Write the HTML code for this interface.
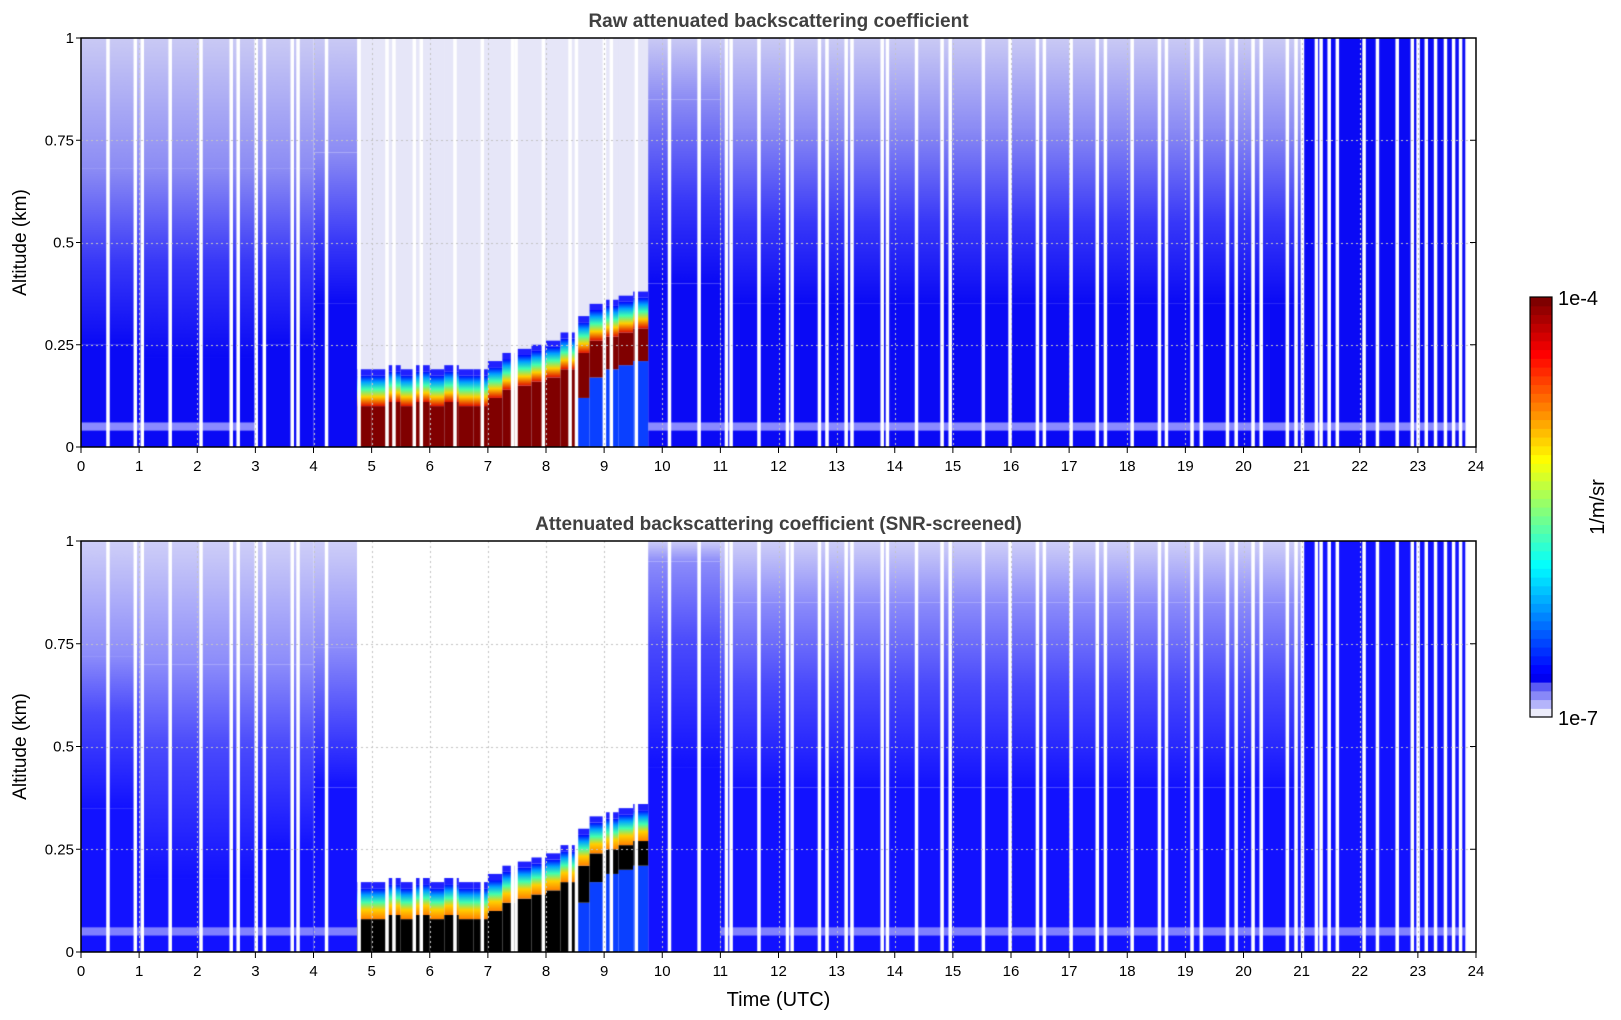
<!DOCTYPE html>
<html><head><meta charset="utf-8"><style>
html,body{margin:0;padding:0;background:#fff;}
#wrap{position:relative;width:1621px;height:1020px;overflow:hidden;font-family:"Liberation Sans","DejaVu Sans",sans-serif;}
canvas,svg{position:absolute;left:0;top:0;}
</style></head><body>
<div id="wrap">
<canvas id="cv" width="1621" height="1020"></canvas>
<svg id="sv" width="1621" height="1020"></svg>
</div>
<script>
// ---- data ----
const segEdges = [0, 1, 3, 4, 4.75, 9.75, 11, 21, 23.82];
const topL1 = [0.25, 0.22, 0.25, 0.35, 0, 0.4, 0.35, 1];
const topL2 = [0.45, 0.45, 0.45, 0.5, 0, 0.6, 0.55, 1];
const topL3 = [0.68, 0.68, 0.68, 0.72, 0, 0.85, 0.78, 1];
const botL1 = [0.35, 0.18, 0.25, 0.4, 0, 0.45, 0.4, 1];
const botL2 = [0.58, 0.5, 0.5, 0.56, 0, 0.75, 0.65, 1];
const botL3 = [0.72, 0.7, 0.7, 0.74, 0, 0.95, 0.85, 1];
const topBand = [1, 1, 0, 0, 0, 1, 1, 1];
const botBand = [1, 1, 1, 1, 0, 0, 1, 1];
const cloudStart = 4.75;
const cloudStep = 0.25;
const cloudTop = [0.1,0.1,0.11,0.1,0.11,0.1,0.11,0.1,0.1,0.12,0.14,0.15,0.16,0.17,0.19,0.23,0.26,0.27,0.28,0.29];
const cloudBase = [0,0,0,0,0,0,0,0,0,0,0,0,0,0,0,0.12,0.17,0.19,0.2,0.21];
const gapHours = [0.46,0.93,1.05,1.53,2.06,2.58,2.70,3.01,3.15,3.63,3.73,4.22,4.78,5.26,5.38,5.73,5.85,6.43,6.90,7.42,7.48,7.95,8.41,8.52,9.00,9.12,9.55,10.12,10.63,11.10,11.18,11.66,12.15,12.23,12.70,12.83,13.16,13.26,13.78,13.87,14.37,14.81,14.95,15.52,15.98,16.45,16.57,17.03,17.48,17.62,18.08,18.55,18.67,19.11,19.27,19.72,19.87,20.16,20.30,20.75,20.90,21.01,21.25,21.33,21.47,21.61,22.07,22.30,22.64,22.90,23.0,23.14,23.3,23.47,23.61,23.73];
const dataEnd = 23.82;
const xTicks = [0,1,2,3,4,5,6,7,8,9,10,11,12,13,14,15,16,17,18,19,20,21,22,23,24];
const yTicks = [0, 0.25, 0.5, 0.75, 1];
const yTickLabels = ["0","0.25","0.5","0.75","1"];

// ---- layout ----
const X0 = 81, X1 = 1476;
const panels = [
  {y0:38, y1:447, L1:topL1, L2:topL2, L3:topL3, band:topBand,
   c:["#0a0af5","#3838f8","#8c8cf4","#cacaf4"], clear:"#e6e6f8", core:"#800000", bandC:"#8a8aff",
   title:"Raw attenuated backscattering coefficient", name:"raw"},
  {y0:541, y1:952, L1:botL1, L2:botL2, L3:botL3, band:botBand,
   c:["#1212ff","#4a4afc","#8c8cfa","#cfcff8"], clear:"#ffffff", core:"#000000", bandC:"#8080ff",
   title:"Attenuated backscattering coefficient (SNR-screened)", name:"screened"}
];
function xs(h){ return X0 + (X1 - X0) * h / 24; }

const ctx = document.getElementById('cv').getContext('2d');
panels.forEach(p => {
  const ys = v => p.y1 - (p.y1 - p.y0) * v;
  for (let s = 0; s < segEdges.length - 1; s++) {
    const xa = xs(segEdges[s]), xb = xs(segEdges[s+1]);
    if (p.L1[s] === 0 && p.L3[s] === 0) continue;
    ctx.fillStyle = p.c[0];
    ctx.fillRect(xa, ys(p.L1[s]), xb - xa, ys(0) - ys(p.L1[s]));
    if (p.L1[s] < 1) {
      const ga = ys(p.L1[s]), gb = ys(p.L3[s]);
      const g = ctx.createLinearGradient(0, ga, 0, gb);
      const f = (p.L2[s] - p.L1[s]) / Math.max(0.001, p.L3[s] - p.L1[s]);
      g.addColorStop(0, p.c[0]); g.addColorStop(Math.min(1, Math.max(0, f)), p.c[1]); g.addColorStop(1, p.c[2]);
      ctx.fillStyle = g; ctx.fillRect(xa, gb, xb - xa, ga - gb);
      const g2 = ctx.createLinearGradient(0, gb, 0, ys(1));
      g2.addColorStop(0, p.c[2]); g2.addColorStop(1, p.c[3]);
      ctx.fillStyle = g2; ctx.fillRect(xa, ys(1), xb - xa, gb - ys(1));
    }
    if (p.band[s]) { ctx.fillStyle = p.bandC; ctx.fillRect(xa, ys(0.06), xb - xa, ys(0.04) - ys(0.06)); }
  }
  // cloud region
  for (let i = 0; i < cloudTop.length; i++) {
    const ta = cloudStart + i * cloudStep;
    const xa = xs(ta), xb = xs(ta + cloudStep) + 0.5;
    ctx.fillStyle = p.clear; ctx.fillRect(xa, p.y0, xb - xa, p.y1 - p.y0);
    const top = p.name === 'raw' ? cloudTop[i] : cloudTop[i] - 0.02;
    const base = cloudBase[i];
    ctx.fillStyle = "#0a40ff"; ctx.fillRect(xa, ys(base), xb - xa, ys(0) - ys(base));
    ctx.fillStyle = p.core; ctx.fillRect(xa, ys(top), xb - xa, ys(base) - ys(top));
    const e0 = ys(top), e1 = ys(top + 0.075);
    const g = ctx.createLinearGradient(0, e0, 0, e1);
    g.addColorStop(0, p.name === 'raw' ? "#e01000" : "#ff8000");
    g.addColorStop(0.3, "#ffd000"); g.addColorStop(0.55, "#40ffb0");
    g.addColorStop(0.78, "#00a0ff"); g.addColorStop(1, "#0000ff");
    ctx.fillStyle = g; ctx.fillRect(xa, e1, xb - xa, e0 - e1);
    ctx.fillStyle = "#2020ff"; ctx.fillRect(xa, ys(top + 0.09), xb - xa, ys(top + 0.075) - ys(top + 0.09));
  }
  // gaps
  ctx.fillStyle = "#ffffff";
  gapHours.forEach(h => ctx.fillRect(xs(h) - 1.5, p.y0, 3.5, p.y1 - p.y0));
  ctx.fillRect(xs(dataEnd), p.y0, X1 - xs(dataEnd), p.y1 - p.y0);
  // grid
  ctx.strokeStyle = "#c4c4c4"; ctx.lineWidth = 1; ctx.setLineDash([2, 3]);
  xTicks.forEach(t => { if (t>0 && t<24){ ctx.beginPath(); ctx.moveTo(Math.round(xs(t))+0.5, p.y0); ctx.lineTo(Math.round(xs(t))+0.5, p.y1); ctx.stroke(); }});
  yTicks.forEach(t => { if (t>0 && t<1){ ctx.beginPath(); ctx.moveTo(X0, Math.round(ys(t))+0.5); ctx.lineTo(X1, Math.round(ys(t))+0.5); ctx.stroke(); }});
  ctx.setLineDash([]);
});

// ---- SVG axes ----
const NS = "http://www.w3.org/2000/svg";
const sv = document.getElementById('sv');
function mk(tag, attrs, text){ const e = document.createElementNS(NS, tag); for (const k in attrs) e.setAttribute(k, attrs[k]); if (text !== undefined) e.textContent = text; sv.appendChild(e); return e; }
panels.forEach(p => {
  const ys = v => p.y1 - (p.y1 - p.y0) * v;
  const fr = mk('rect', {x:X0, y:p.y0, width:X1-X0, height:p.y1-p.y0, fill:'none', stroke:'#000', 'stroke-width':1.5});
  
  
  xTicks.forEach(t => {
    const x = xs(t);
    const tk = mk('line', {x1:x, x2:x, y1:p.y1, y2:p.y1+6, stroke:'#000', 'stroke-width':1});
    
    
    const lb = mk('text', {x:x, y:p.y1+24, 'font-size':15, 'text-anchor':'middle', fill:'#000'}, String(t));
    
    
  });
  yTicks.forEach((t, i) => {
    const y = ys(t);
    const tk = mk('line', {x1:X0-5, x2:X0, y1:y, y2:y, stroke:'#000', 'stroke-width':1});
    
    
    const tr = mk('line', {x1:X1-6, x2:X1, y1:y, y2:y, stroke:'#000', 'stroke-width':1});
    
    
    const lb = mk('text', {x:X0-7, y:y+5, 'font-size':15, 'text-anchor':'end', fill:'#000'}, yTickLabels[i]);
    
    
  });
  const ttl = mk('text', {x:(X0+X1)/2, y:p.y0-11, 'font-size':19, 'font-weight':'bold', 'text-anchor':'middle', fill:'#404040'}, p.title);
  
  
  const cy = (p.y0 + p.y1) / 2;
  const yl = mk('text', {x:26, y:cy, 'font-size':19, 'text-anchor':'middle', fill:'#000', transform:'rotate(-90 26 '+cy+')'}, 'Altitude (km)');
  
  
});
const xl = mk('text', {x:(X0+X1)/2, y:1006, 'font-size':20, 'text-anchor':'middle', fill:'#000'}, 'Time (UTC)');



// colorbar
const CB = {x:1530, w:22, y0:297, y1:717};
const low = ["#ececfa","#b4b4fa","#8888f8","#5a5af4"];
const N = 48;
const stepH = (CB.y1 - CB.y0) / N;
function cl(v){ return Math.max(0, Math.min(1, v)); }
for (let i = 0; i < N; i++) {
  let col;
  if (i < low.length) col = low[i];
  else {
    const t = 0.11 + 0.89 * (i - low.length) / (N - low.length - 1);
    const r = cl(1.5 - Math.abs(4*t - 3)), g = cl(1.5 - Math.abs(4*t - 2)), b = cl(1.5 - Math.abs(4*t - 1));
    col = 'rgb(' + Math.round(r*255) + ',' + Math.round(g*255) + ',' + Math.round(b*255) + ')';
  }
  const r = mk('rect', {x:CB.x, y:CB.y1 - (i+1)*stepH, width:CB.w, height:stepH+0.6, fill:col});
  
  
}
const cbf = mk('rect', {x:CB.x, y:CB.y0, width:CB.w, height:CB.y1-CB.y0, fill:'none', stroke:'#000', 'stroke-width':1.2});


const c1 = mk('text', {x:1558, y:305, 'font-size':20, fill:'#000'}, '1e-4');


const c2 = mk('text', {x:1558, y:725, 'font-size':20, fill:'#000'}, '1e-7');


const cu = mk('text', {x:1604, y:507, 'font-size':20, 'text-anchor':'middle', fill:'#000', transform:'rotate(-90 1604 507)'}, '1/m/sr');


</script>
</body></html>
